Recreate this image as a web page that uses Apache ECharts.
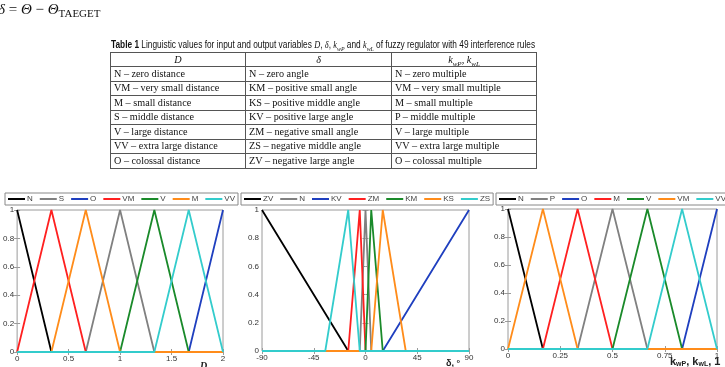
<!DOCTYPE html>
<html>
<head>
<meta charset="utf-8">
<script src="https://cdn.jsdelivr.net/npm/echarts@6/dist/echarts.min.js"></script>
<style>
body { margin: 0; width: 725px; height: 367px; overflow: hidden; background: #fff; position: relative; }
#chart { position: absolute; left: 0; top: 0; width: 725px; height: 367px; }
#eq { position: absolute; left: -2px; top: 1px; font: 15px 'Liberation Serif', serif; color: #111; white-space: nowrap; }
#eq sub { font-size: 11px; font-style: normal; vertical-align: -3px; }
#caption { position: absolute; left: 111px; top: 39px; font: 10px 'Liberation Sans', sans-serif; color: #111; white-space: nowrap; transform-origin: left top; }
#caption i { font-family: 'Liberation Serif', serif; }
#caption sub { font-size: 7px; line-height: 0; }
#tbl { position: absolute; left: 110px; top: 52px; border-collapse: collapse; font: 10.2px 'Liberation Serif', serif; color: #111; }
#tbl td { border: 1px solid #555; height: 14.5px; padding: 0 3px; line-height: 12px; white-space: nowrap; box-sizing: border-box; }
#tbl tr.head td { text-align: center; font-style: italic; height: 14px; }
#tbl sub { font-size: 7px; line-height: 0; }
</style>
</head>
<body>
<div id="chart"></div>
<div id="eq"><i>δ</i> = <i>Θ</i> − <i>Θ</i><sub>TAEGET</sub></div>
<div id="caption"><b>Table 1</b> Linguistic values for input and output variables <i>D</i>, <i>δ</i>, <i>k<sub>wP</sub></i> and <i>k<sub>wL</sub></i> of fuzzy regulator with 49 interference rules</div>
<table id="tbl"></table>
<script>
// table text
var tableHead = ['<i>D</i>', '<i>δ</i>', '<i>k</i><sub>wP</sub>, <i>k</i><sub>wL</sub>'];
var tableD = ['N – zero distance', 'VM – very small distance', 'M – small distance', 'S – middle distance',
	'V – large distance', 'VV – extra large distance', 'O – colossal distance'];
var tableDelta = ['N – zero angle', 'KM – positive small angle', 'KS – positive middle angle', 'KV – positive large angle',
	'ZM – negative small angle', 'ZS – negative middle angle', 'ZV – negative large angle'];
var tableK = ['N – zero multiple', 'VM – very small multiple', 'M – small multiple', 'P – middle multiple',
	'V – large multiple', 'VV – extra large multiple', 'O – colossal multiple'];

// membership functions: [left foot, peak, right foot]
var colors = ['#000000', '#808080', '#1f3fbf', '#ff2020', '#1a8a2a', '#ff8c1a', '#33cccc'];

var dNames = ['N', 'S', 'O', 'VM', 'V', 'M', 'VV'];
var dTri = [[0, 0, 0.333], [0.667, 1, 1.333], [1.667, 2, 2], [0, 0.333, 0.667], [1, 1.333, 1.667], [0.333, 0.667, 1], [1.333, 1.667, 2]];
var dTicks = [0, 2, 0.5];

var aNames = ['ZV', 'N', 'KV', 'ZM', 'KM', 'KS', 'ZS'];
var aTri = [[-90, -90, -15], [-5, 0, 5], [15, 90, 90], [-15, -5, 0], [0, 5, 15], [5, 15, 35], [-35, -15, -5]];
var aTicks = [-90, 90, 45];

var kNames = ['N', 'P', 'O', 'M', 'V', 'VM', 'VV'];
var kTri = [[0, 0, 0.167], [0.333, 0.5, 0.667], [0.833, 1, 1], [0.167, 0.333, 0.5], [0.5, 0.667, 0.833], [0, 0.167, 0.333], [0.667, 0.833, 1]];
var kTicks = [0, 1, 0.25];

// table rows
var tbl = document.getElementById('tbl');
var widths = [135, 146, 145];
var html = '<tr class="head">' + tableHead.map(function (h, i) {
	return '<td style="width:' + widths[i] + 'px">' + h + '</td>';
}).join('') + '</tr>';
for (var r = 0; r < tableD.length; r++) {
	html += '<tr><td>' + tableD[r] + '</td><td>' + tableDelta[r] + '</td><td>' + tableK[r] + '</td></tr>';
}
tbl.innerHTML = html;

var cap = document.getElementById('caption');
cap.style.transform = 'scaleX(' + (424 / cap.offsetWidth) + ')';

function triPoints(t, lo, hi) {
	var p = [];
	if (t[0] < t[1]) {
		if (t[0] > lo) p.push([lo, 0]);
		p.push([t[0], 0]);
	}
	p.push([t[1], 1]);
	if (t[2] > t[1]) {
		p.push([t[2], 0]);
		if (t[2] < hi) p.push([hi, 0]);
	}
	return p;
}

var grids = [
	{ left: 16, top: 210, width: 207, height: 142 },
	{ left: 262, top: 210, width: 207, height: 141 },
	{ left: 508, top: 209, width: 209, height: 140 }
];
var charts = [
	{ names: dNames, tri: dTri, ticks: dTicks, key: 'd' },
	{ names: aNames, tri: aTri, ticks: aTicks, key: 'a' },
	{ names: kNames, tri: kTri, ticks: kTicks, key: 'k' }
];
var legendLeft = [5, 241, 496];

var axisColor = '#9a9a9a';
var labelStyle = { fontSize: 8, color: '#333', fontFamily: 'Liberation Sans' };

var option = {
	animation: false,
	grid: [],
	xAxis: [],
	yAxis: [],
	legend: [],
	series: [],
	graphic: [
		{ type: 'text', left: 200, top: 361, style: { text: 'D', font: 'italic bold 10px Liberation Serif', fill: '#222' } },
		{ type: 'text', left: 446, top: 359, style: { text: 'δ, °', font: 'bold 9px Liberation Sans', fill: '#222' } },
		{ type: 'text', left: 670, top: 356, style: {
			text: '{b|k}{s|wP}{b|, k}{s|wL}{b|, 1}',
			rich: { b: { font: 'bold 11px Liberation Sans', fill: '#222' }, s: { font: 'bold 7px Liberation Sans', fill: '#222', padding: [6, 0, 0, 0] } }
		} }
	]
};

charts.forEach(function (c, i) {
	var g = grids[i];
	option.grid.push({ left: g.left, top: g.top, width: g.width, height: g.height, show: true, borderColor: axisColor, borderWidth: 1 });
	var tick = { inside: true, length: 3, lineStyle: { color: axisColor } };
	option.xAxis.push({
		type: 'value', gridIndex: i, min: c.ticks[0], max: c.ticks[1], interval: c.ticks[2],
		axisLine: { show: false }, axisTick: tick, splitLine: { show: false },
		axisLabel: Object.assign({ margin: 3 }, labelStyle)
	});
	option.xAxis.push({
		type: 'value', gridIndex: i, position: 'top', min: c.ticks[0], max: c.ticks[1], interval: c.ticks[2],
		axisLine: { show: false }, axisTick: tick, splitLine: { show: false }, axisLabel: { show: false }
	});
	option.yAxis.push({
		type: 'value', gridIndex: i, min: 0, max: 1, interval: 0.2,
		axisLine: { show: false }, axisTick: tick, splitLine: { show: false },
		axisLabel: Object.assign({ margin: 3 }, labelStyle)
	});
	option.yAxis.push({
		type: 'value', gridIndex: i, position: 'right', min: 0, max: 1, interval: 0.2,
		axisLine: { show: false }, axisTick: tick, splitLine: { show: false }, axisLabel: { show: false }
	});
	var legendData = [];
	c.names.forEach(function (n, j) {
		var sname = n + '#' + c.key;
		legendData.push(sname);
		option.series.push({
			name: sname, type: 'line', xAxisIndex: i * 2, yAxisIndex: i * 2,
			symbol: 'none', color: colors[j],
			lineStyle: { width: 1.8, color: colors[j] },
			data: triPoints(c.tri[j], c.ticks[0], c.ticks[1])
		});
	});
	option.legend.push({
		data: legendData, left: legendLeft[i], top: 193, width: 400,
		orient: 'horizontal', icon: 'rect', itemWidth: 17, itemHeight: 2, itemGap: 7,
		padding: [2, 3], borderColor: '#888', borderWidth: 1, backgroundColor: '#fff',
		textStyle: { fontSize: 8, color: '#444', fontFamily: 'Liberation Sans', padding: [0, 0, 0, -3] },
		formatter: function (name) { return name.split('#')[0]; }
	});
});

var chart = echarts.init(document.getElementById('chart'));
chart.setOption(option);
</script>
</body>
</html>
